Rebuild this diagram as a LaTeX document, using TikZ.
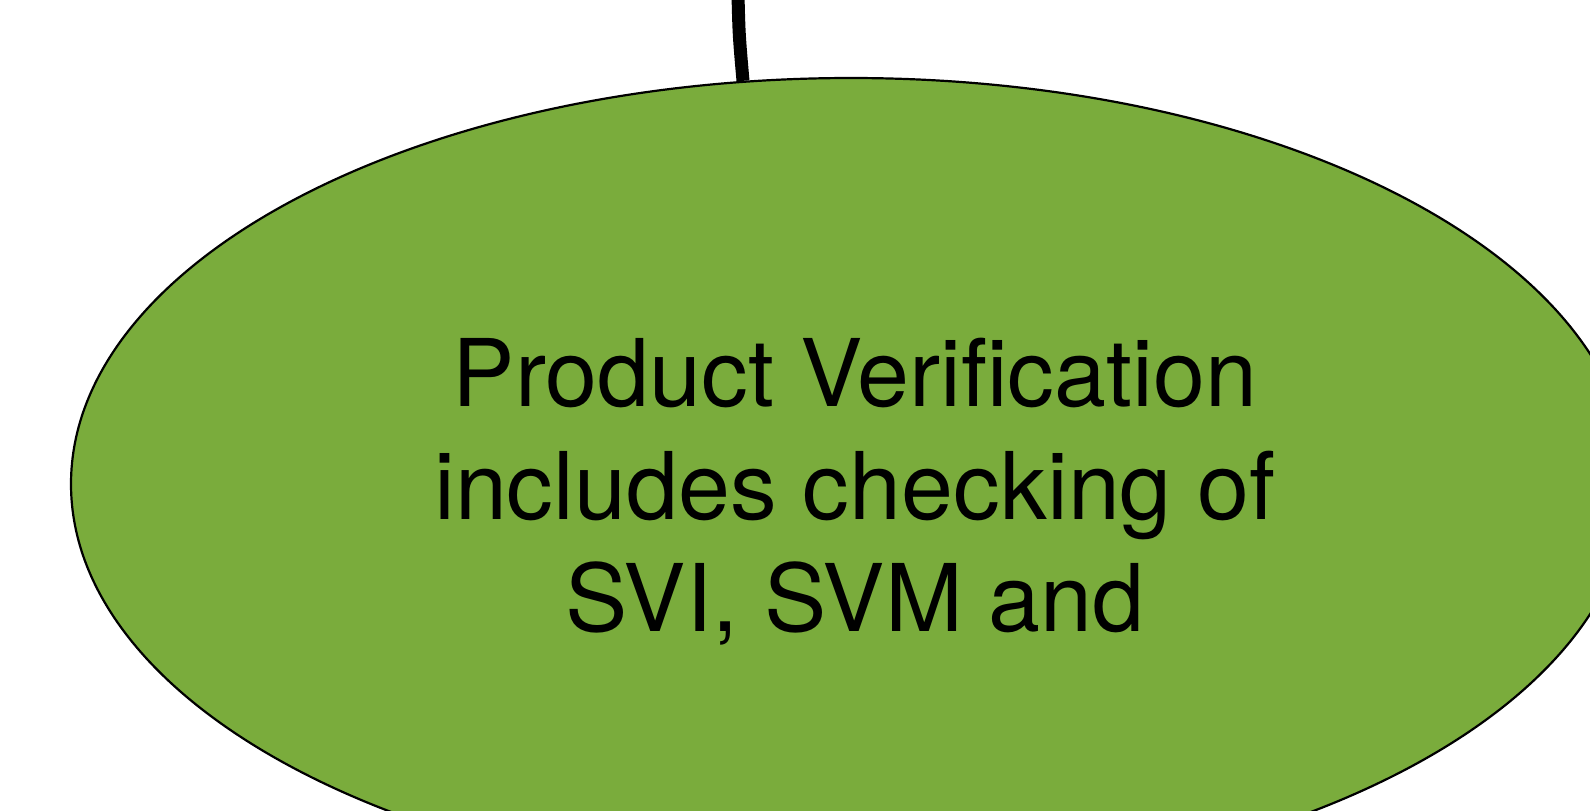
\documentclass[tikz,border=0pt]{standalone}
\usepackage{fontspec}
\setmainfont{TeX Gyre Heros}
\usetikzlibrary{shapes.geometric}
\definecolor{leaf}{HTML}{7AAC3C}
\tikzset{
  bubble/.style={ellipse, draw=black, line width=1.1pt, fill=leaf, inner sep=0pt,
    minimum width=780pt, minimum height=406pt},
  caption/.style={align=center, inner sep=0pt, font=\fontsize{46.7}{56.3}\selectfont},
  link/.style={line width=6.5pt, black}
}
\begin{document}
\begin{tikzpicture}[x=0.5pt,y=-0.5pt]
\useasboundingbox[fill=white] (0,0) rectangle (1590,810);
\node[bubble] (ell) at (851,484) {};
\node[caption] (txt) at ([xshift=2pt,yshift=-4pt]ell.center) {Product Verification\\includes checking of\\SVI, SVM and};
\coordinate (top) at (738,-5);
\draw[link] (top) .. controls (739,35) .. (ell.105.2);
\end{tikzpicture}
\end{document}
